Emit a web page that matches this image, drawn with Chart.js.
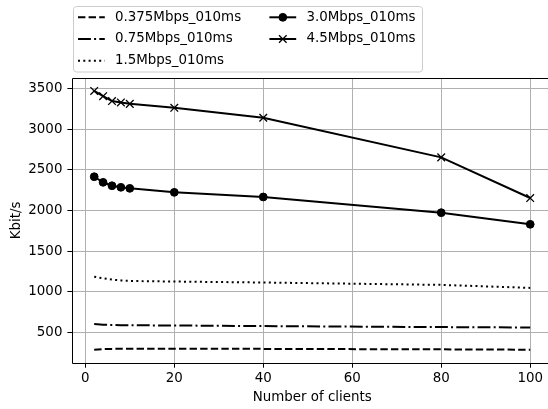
<!DOCTYPE html>
<html>
<head>
<meta charset="utf-8">
<script src="https://cdn.jsdelivr.net/npm/chart.js@4"></script>
<style>
  html, body { margin: 0; padding: 0; background: #fff; overflow: hidden; width: 548px; height: 409px; }
  #wrap { position: relative; width: 548px; height: 409px; overflow: hidden; }
  canvas { display: block; }
</style>
</head>
<body>
<div id="wrap"><canvas id="c" width="560" height="409" style="width:560px;height:409px"></canvas></div>
<script>
// ---- data ----
const clients = [2, 4, 6, 8, 10, 20, 40, 80, 100];
const seriesNames = ['0.375Mbps_010ms', '0.75Mbps_010ms', '1.5Mbps_010ms', '3.0Mbps_010ms', '4.5Mbps_010ms'];
const rate0375 = [287, 295, 298, 299, 300, 300, 298, 292, 288];
const rate075  = [603, 596, 592, 590, 588, 586, 578, 566, 561];
const rate15   = [1185, 1165, 1150, 1140, 1133, 1126, 1114, 1085, 1048];
const rate30   = [2415, 2346, 2304, 2285, 2272, 2223, 2166, 1973, 1830];
const rate45   = [3470, 3405, 3345, 3328, 3311, 3262, 3140, 2653, 2153];
const xTicks = [0, 20, 40, 60, 80, 100];
const yTicks = [500, 1000, 1500, 2000, 2500, 3000, 3500];

const FONT = 'DejaVu Sans';
const FS = 13.4;
Chart.defaults.font.family = FONT;
Chart.defaults.font.size = FS;
Chart.defaults.color = '#000';

function pts(arr) { return clients.map((x, i) => ({ x: x, y: arr[i] })); }

const styles = [
  { dash: [7.4, 3.2], point: false },
  { dash: [12.9, 3.2, 2, 3.2], point: false },
  { dash: [2, 3.3], point: false },
  { dash: [], point: 'circle' },
  { dash: [], point: 'crossRot' }
];
const values = [rate0375, rate075, rate15, rate30, rate45];

const datasets = values.map((v, i) => ({
  label: seriesNames[i],
  data: pts(v),
  borderColor: '#000',
  backgroundColor: '#000',
  borderWidth: 2,
  borderDash: styles[i].dash,
  tension: 0,
  fill: false,
  pointStyle: styles[i].point || 'circle',
  pointRadius: styles[i].point === 'circle' ? 3.9 : (styles[i].point === 'crossRot' ? 5.4 : 0),
  pointBorderWidth: styles[i].point === 'crossRot' ? 1.3 : 1,
  pointBorderColor: '#000',
  pointBackgroundColor: '#000',
  pointHoverRadius: 0
}));

// left, top and bottom spines (right spine lies outside the visible window)
const frame = {
  id: 'frame',
  afterDatasetsDraw(chart) {
    const { ctx, chartArea: a } = chart;
    const l = Math.round(a.left) + 0.5, t = Math.round(a.top) + 0.5, b = Math.round(a.bottom) + 0.5;
    ctx.save();
    ctx.strokeStyle = '#000';
    ctx.lineWidth = 1;
    ctx.setLineDash([]);
    ctx.beginPath();
    ctx.moveTo(a.right + 2, t);
    ctx.lineTo(l, t);
    ctx.lineTo(l, b);
    ctx.lineTo(a.right + 2, b);
    ctx.stroke();
    ctx.restore();
  }
};

const legendBox = {
  id: 'legendBox',
  afterDraw(chart) {
    const ctx = chart.ctx;
    ctx.save();
    const bx = 73.5, by = 6.5, bw = 349, bh = 65.5, r = 3;
    ctx.beginPath();
    ctx.roundRect(bx, by, bw, bh, r);
    ctx.fillStyle = 'rgba(255,255,255,0.8)';
    ctx.fill();
    ctx.strokeStyle = '#cccccc';
    ctx.lineWidth = 1;
    ctx.stroke();
    const rows = [17.3, 39, 60.7];
    const cols = [{ h0: 78, h1: 104.8, tx: 115 }, { h0: 269.4, h1: 296.2, tx: 306.5 }];
    chart.data.datasets.forEach((ds, i) => {
      const col = cols[i < 3 ? 0 : 1];
      const y = rows[i < 3 ? i : i - 3];
      ctx.beginPath();
      ctx.setLineDash(ds.borderDash);
      ctx.lineWidth = ds.borderWidth;
      ctx.strokeStyle = '#000';
      ctx.moveTo(col.h0, y);
      ctx.lineTo(col.h1, y);
      ctx.stroke();
      ctx.setLineDash([]);
      if (ds.pointRadius > 0) {
        ctx.fillStyle = '#000';
        ctx.strokeStyle = '#000';
        ctx.lineWidth = ds.pointBorderWidth;
        ctx.beginPath();
        const cx = (col.h0 + col.h1) / 2;
        if (ds.pointStyle === 'circle') {
          ctx.arc(cx, y, ds.pointRadius, 0, Math.PI * 2);
          ctx.fill();
          ctx.stroke();
        } else {
          const d = ds.pointRadius * Math.SQRT1_2;
          ctx.moveTo(cx - d, y - d); ctx.lineTo(cx + d, y + d);
          ctx.moveTo(cx - d, y + d); ctx.lineTo(cx + d, y - d);
          ctx.stroke();
        }
      }
      ctx.fillStyle = '#000';
      ctx.font = FS + 'px "' + FONT + '"';
      ctx.textBaseline = 'middle';
      ctx.textAlign = 'left';
      ctx.fillText(ds.label, col.tx, y);
    });
    ctx.restore();
  }
};

new Chart(document.getElementById('c'), {
  type: 'line',
  data: { datasets: datasets },
  plugins: [frame, legendBox],
  options: {
    responsive: false,
    animation: false,
    events: [],
    layout: { padding: { left: 0, top: 78, right: 8, bottom: 0 } },
    plugins: { legend: { display: false }, tooltip: { enabled: false } },
    scales: {
      x: {
        type: 'linear',
        min: -2.9,
        max: 104.9,
        afterBuildTicks: s => { s.ticks = xTicks.map(v => ({ value: v })); },
        afterFit: s => { s.height = 46.3; },
        grid: { color: '#b0b0b0', lineWidth: 1, tickColor: '#000', tickLength: 5, drawTicks: true },
        border: { display: false },
        ticks: { color: '#000', padding: 3, maxRotation: 0, font: { family: FONT, size: FS }, callback: v => String(v) },
        title: { display: true, text: 'Number of clients', color: '#000', font: { family: FONT, size: FS }, padding: { top: 0, bottom: 3.7 } }
      },
      y: {
        type: 'linear',
        min: 128,
        max: 3629,
        afterBuildTicks: s => { s.ticks = yTicks.map(v => ({ value: v })); },
        afterFit: s => { s.width = 72.4; },
        grid: { color: '#b0b0b0', lineWidth: 1, tickColor: '#000', tickLength: 5, drawTicks: true },
        border: { display: false },
        ticks: { color: '#000', padding: 5, font: { family: FONT, size: FS }, callback: v => String(v) },
        title: { display: true, text: 'Kbit/s', color: '#000', font: { family: FONT, size: FS }, padding: { top: 8.7, bottom: 0 } }
      }
    }
  }
});
</script>
</body>
</html>
